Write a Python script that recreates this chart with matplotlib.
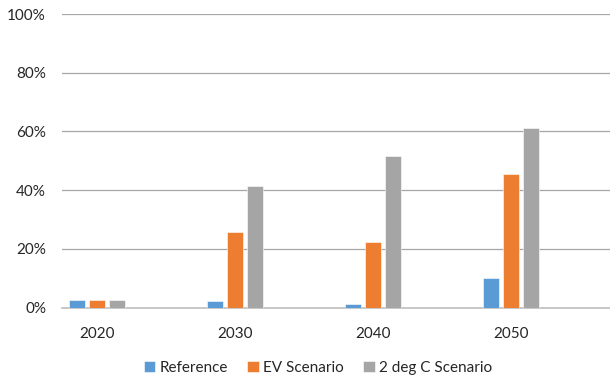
import matplotlib
matplotlib.use("Agg")
import matplotlib.pyplot as plt
import numpy as np
from matplotlib.ticker import PercentFormatter

# share of new sales by scenario
years = ["2020", "2030", "2040", "2050"]
series = ["Reference", "EV Scenario", "2 deg C Scenario"]
reference = [2.5, 2.2, 1.2, 10.2]
ev_scenario = [2.5, 25.9, 22.3, 45.5]
two_deg = [2.5, 41.4, 51.7, 61.2]
colors = ["#5b9bd5", "#ed7d31", "#a5a5a5"]

plt.rcParams['font.family'] = ['Lato', 'DejaVu Sans']

fig = plt.figure(figsize=(6.1, 3.8), dpi=100)
ax = fig.add_axes([0.1016, 0.1903, 0.8984, 0.7728])

x = np.arange(len(years))
width = 0.116
pitch = 0.148
for i, (name, vals) in enumerate(zip(series, [reference, ev_scenario, two_deg])):
    ax.bar(x + (i - 1) * pitch, vals, width, color=colors[i], label=name,
           edgecolor='white', linewidth=0.4, zorder=3)

ax.set_ylim(0, 100)
ax.set_xlim(-0.254, 3.717)
ax.set_yticks(np.arange(0, 101, 20))
ax.yaxis.set_major_formatter(PercentFormatter(decimals=0))
ax.set_xticks(x)
ax.set_xticklabels(years)
ax.grid(axis='y', color='#a6a6a6', linewidth=0.9, zorder=0)
ax.tick_params(axis='both', length=0, labelsize=11, colors='#262626')
ax.tick_params(axis='x', pad=14)
ax.tick_params(axis='y', pad=11.5)
for side in ['top', 'right', 'left']:
    ax.spines[side].set_visible(False)
ax.spines['bottom'].set_color('#bfbfbf')
ax.spines['bottom'].set_linewidth(1.2)

fig.legend(loc='center', bbox_to_anchor=(0.521, 0.032), ncol=3, frameon=False,
           fontsize=11, handlelength=0.75, handleheight=0.7,
           handletextpad=0.25, columnspacing=1.3, labelcolor='#262626')

fig.savefig("out.png", dpi=100)
